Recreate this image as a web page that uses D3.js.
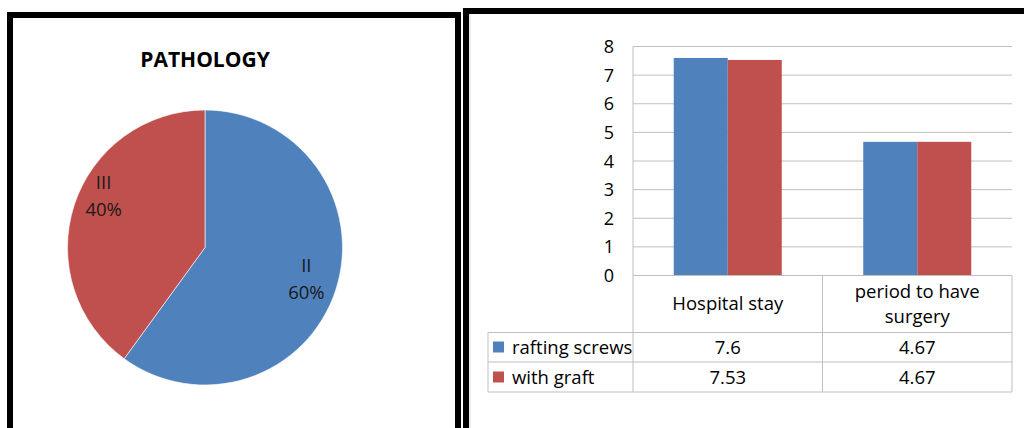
<!DOCTYPE html>
<html>
<head>
<meta charset="utf-8">
<script src="https://cdn.jsdelivr.net/npm/d3@7/dist/d3.min.js"></script>
<style>
  html, body { margin: 0; padding: 0; background: #fff; }
  svg { display: block; }
  text { font-family: "Open Sans", Lato, sans-serif; }
</style>
</head>
<body>
<svg id="chart" width="1024" height="428"></svg>
<script>
// Pie: pathology grades
const pieTitle = "PATHOLOGY";
const pieCategories = ["II", "III"];
const pieValues = [60, 40];

// Grouped bars with data table
const barCategories = ["Hospital stay", "period to have surgery"];
const barCategoryLines = [["Hospital stay"], ["period to have", "surgery"]];
const seriesNames = ["rafting screws", "with graft"];
const raftingScrews = [7.6, 4.67];
const withGraft = [7.53, 4.67];
const raftingLabels = ["7.6", "4.67"];
const graftLabels = ["7.53", "4.67"];
const yTicks = [0, 1, 2, 3, 4, 5, 6, 7, 8];

const colors = ["#4F81BD", "#C0504D"];
const svg = d3.select("#chart");

// ---------- panel frames ----------
svg.append("rect").attr("x", 10).attr("y", 15).attr("width", 448).attr("height", 440)
  .attr("fill", "#fff").attr("stroke", "#000").attr("stroke-width", 6);
svg.append("rect").attr("x", 466).attr("y", 11).attr("width", 600).attr("height", 440)
  .attr("fill", "#fff").attr("stroke", "#000").attr("stroke-width", 6);
svg.append("line").attr("x1", 470).attr("x2", 470).attr("y1", 14).attr("y2", 428)
  .attr("stroke", "#d8d8d8").attr("stroke-width", 1);

// ---------- pie ----------
const cx = 205, cy = 247.5, R = 137.5;
svg.append("text").attr("x", cx).attr("y", 67).attr("text-anchor", "middle")
  .attr("font-size", 21).attr("font-weight", "bold").attr("fill", "#000").text(pieTitle);

const pie = d3.pie().sort(null).value(d => d.v);
const pieData = pie(pieCategories.map((c, i) => ({ c, v: pieValues[i] })));
const arc = d3.arc().innerRadius(0).outerRadius(R);
const labelArc = d3.arc().innerRadius(R * 0.76).outerRadius(R * 0.76);
const total = d3.sum(pieValues);
const labelNudge = [[2, 0], [-2, -18]];

const pg = svg.append("g").attr("transform", `translate(${cx},${cy})`);
pg.selectAll("path").data(pieData).join("path")
  .attr("d", arc).attr("fill", (d, i) => colors[i])
  .attr("stroke", "#fff").attr("stroke-width", 0.6);

pieData.forEach((d, i) => {
  const [lx, ly] = labelArc.centroid(d);
  const x = lx + labelNudge[i][0], y = ly + labelNudge[i][1];
  const t = pg.append("text").attr("text-anchor", "middle").attr("font-size", 18.5).attr("fill", "#1a1a1a");
  t.append("tspan").attr("x", x).attr("y", y - 8).text(d.data.c);
  t.append("tspan").attr("x", x).attr("y", y + 19).text(Math.round(d.data.v / total * 100) + "%");
});

// ---------- bar chart ----------
const plotL = 633, plotR = 1012, plotT = 46.5, plotB = 275.5;
const y = d3.scaleLinear().domain([0, 8]).range([plotB, plotT]);
const x0 = d3.scaleBand().domain(barCategories).range([plotL, plotR])
  .paddingInner(0.43).paddingOuter(0.215);
const x1 = d3.scaleBand().domain(seriesNames).range([0, x0.bandwidth()]);
const cell = d3.scaleBand().domain(barCategories).range([plotL, plotR]);
const gridColor = "#bfbfbf";

// horizontal gridlines
svg.append("g").selectAll("line").data(yTicks.filter(t => t > 0)).join("line")
  .attr("x1", plotL).attr("x2", plotR)
  .attr("y1", d => y(d)).attr("y2", d => y(d))
  .attr("stroke", gridColor).attr("stroke-width", 1);

// y tick labels
svg.append("g").selectAll("text").data(yTicks).join("text")
  .attr("x", 614).attr("y", d => y(d) + 6.5)
  .attr("text-anchor", "end").attr("font-size", 18).attr("fill", "#000")
  .text(d => d);

// bars
const seriesValues = [raftingScrews, withGraft];
const bars = svg.append("g");
barCategories.forEach((cat, ci) => {
  seriesNames.forEach((s, si) => {
    const v = seriesValues[si][ci];
    bars.append("rect")
      .attr("x", x0(cat) + x1(s)).attr("width", x1.bandwidth())
      .attr("y", y(v)).attr("height", y(0) - y(v))
      .attr("fill", colors[si]);
  });
});

// data table
const rowTop = plotB, catBottom = 332.5, row1Bottom = 362, row2Bottom = 392;
const legendL = 488;
const tg = svg.append("g").attr("stroke", gridColor).attr("stroke-width", 1).attr("fill", "none");
// zero line / top of table
tg.append("line").attr("x1", plotL).attr("x2", plotR).attr("y1", plotB).attr("y2", plotB);
// y axis line down through category row
tg.append("line").attr("x1", plotL).attr("x2", plotL).attr("y1", plotT).attr("y2", row2Bottom);
// column dividers and right edge
barCategories.forEach(cat => {
  const xr = cell(cat) + cell.bandwidth();
  tg.append("line").attr("x1", xr).attr("x2", xr).attr("y1", rowTop).attr("y2", row2Bottom);
});
// row lines
[catBottom, row1Bottom, row2Bottom].forEach(yy => {
  tg.append("line").attr("x1", legendL).attr("x2", plotR).attr("y1", yy).attr("y2", yy);
});
tg.append("line").attr("x1", legendL).attr("x2", legendL).attr("y1", catBottom).attr("y2", row2Bottom);

// category labels
barCategories.forEach((cat, ci) => {
  const lines = barCategoryLines[ci];
  const cxx = cell(cat) + cell.bandwidth() / 2;
  const start = lines.length === 1 ? 310 : 298;
  lines.forEach((ln, li) => {
    svg.append("text").attr("x", cxx).attr("y", start + li * 24.5)
      .attr("text-anchor", "middle").attr("font-size", 18.5).attr("fill", "#000").text(ln);
  });
});

// legend keys and values
const rowBase = [353.5, 383.5];
const rowLabels = [raftingLabels, graftLabels];
seriesNames.forEach((s, si) => {
  svg.append("rect").attr("x", 493).attr("y", rowBase[si] - 12).attr("width", 11).attr("height", 11)
    .attr("fill", colors[si]);
  svg.append("text").attr("x", 512).attr("y", rowBase[si]).attr("font-size", 18.5).attr("fill", "#000").text(s);
  barCategories.forEach((cat, ci) => {
    svg.append("text").attr("x", cell(cat) + cell.bandwidth() / 2).attr("y", rowBase[si])
      .attr("text-anchor", "middle").attr("font-size", 18.5).attr("fill", "#000")
      .text(rowLabels[si][ci]);
  });
});
</script>
</body>
</html>
